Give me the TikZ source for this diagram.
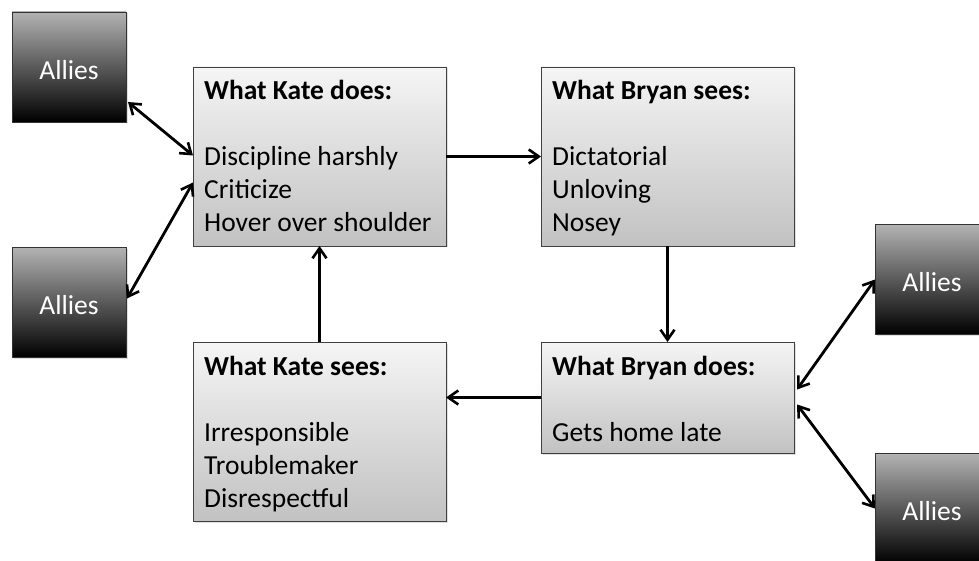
\documentclass[tikz,border=0pt]{standalone}
\usepackage{fontspec}
\setmainfont{Carlito}
\usetikzlibrary{arrows.meta,shadows,calc}

\tikzset{
  mainbox/.style={rectangle, draw=black!75, line width=0.8pt, inner sep=0pt, outer sep=0pt,
    top color=black!4, bottom color=black!24, minimum width=253pt,
    drop shadow={opacity=0.25, shadow xshift=1.5pt, shadow yshift=-1.5pt}},
  allybox/.style={rectangle, draw=black!80, line width=0.8pt, inner sep=0pt, outer sep=0pt,
    top color=black!30, bottom color=black, minimum width=114pt, minimum height=110pt,
    text=white, font=\fontsize{27.5}{33}\selectfont, text height=24.5pt, text depth=0pt,
    drop shadow={opacity=0.25, shadow xshift=1.5pt, shadow yshift=-1.5pt}},
  % anchored at the baseline of the last line of text
  boxtext/.style={anchor=base west, inner sep=0pt, align=left,
    font=\fontsize{27.5}{33}\selectfont},
  link/.style={line width=2.8pt, -{Straight Barb[length=10pt,width=14pt,line width=2.6pt]}},
  twoway/.style={line width=2.8pt, {Straight Barb[length=10pt,width=14pt,line width=2.6pt]}-{Straight Barb[length=10pt,width=14pt,line width=2.6pt]}}
}

\begin{document}
\begin{tikzpicture}[x=1pt, y=-1pt]
\useasboundingbox (0,0) rectangle (979,561);
\clip (0,0) rectangle (979,561);

% the four cycle boxes
\node[mainbox, minimum height=179pt] (kd) at (319.5,156.5) {};
\node[mainbox, minimum height=179pt] (bs) at (667.5,156.5) {};
\node[mainbox, minimum height=179pt] (ks) at (319.5,431.5) {};
\node[mainbox, minimum height=111pt] (bd) at (667.5,397.5) {};

\node[boxtext] (kdt) at ($(kd.north west)+(11,165)$)
  {\textbf{What Kate does:}\\[33pt]Discipline harshly\\Criticize\\Hover over shoulder};
\node[boxtext] (bst) at ($(bs.north west)+(11,165)$)
  {\textbf{What Bryan sees:}\\[33pt]Dictatorial\\Unloving\\Nosey};
\node[boxtext] (kst) at ($(ks.north west)+(11,165)$)
  {\textbf{What Kate sees:}\\[33pt]Irresponsible\\Troublemaker\\Disrespectful};
\node[boxtext] (bdt) at ($(bd.north west)+(11,99)$)
  {\textbf{What Bryan does:}\\[33pt]Gets home late};

% allies on either side
\node[allybox] (al1) at (69,67) {Allies};
\node[allybox] (al2) at (69,302.5) {Allies};
\node[allybox] (al3) at (932,279.5) {Allies};
\node[allybox] (al4) at (932,508.5) {Allies};

% the cycle
\draw[link] (kd.east) -- (bs.west);
\draw[link] (bs.south) -- (bd.north);
\draw[link] (bd.west) -- (bd.west -| ks.east);
\draw[link] (ks.north) -- (kd.south);

% ties to the allies
\draw[twoway] ($(al1.south east)+(2,-20)$) -- ($(kd.west)+(0,-1)$);
\draw[twoway] ($(al2.east)+(1,-4)$) -- ($(kd.west)+(0,26)$);
\draw[twoway] ($(bd.east)+(3,-8)$) -- (al3.west);
\draw[twoway] ($(bd.east)+(3,7)$) -- (al4.west);
\end{tikzpicture}
\end{document}
